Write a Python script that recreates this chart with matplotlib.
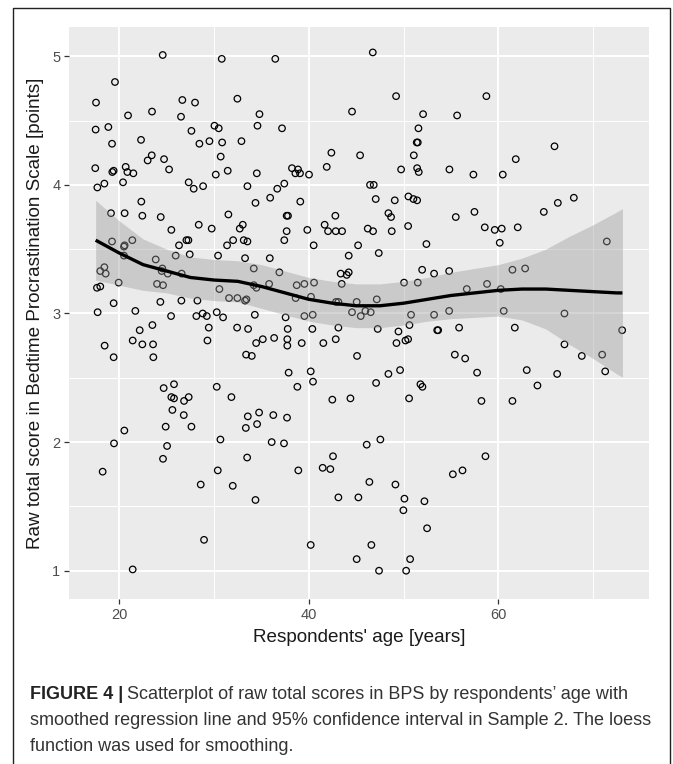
import matplotlib
matplotlib.use("Agg")
import matplotlib.pyplot as plt
from matplotlib.lines import Line2D

plt.rcParams['font.family'] = ['Liberation Sans', 'DejaVu Sans']

# respondents' age and raw BPS score
age = [
    24.58, 30.81, 19.54, 17.54, 26.65, 27.99, 32.46, 20.92, 23.45, 26.51, 34.79, 17.50, 18.84, 27.61, 30.04,
    30.49, 34.58, 19.23, 22.29, 28.45, 29.51, 30.85, 32.89, 17.46, 19.26, 19.40, 20.67, 20.85, 21.48, 22.99,
    23.42, 24.72, 25.25, 30.70, 30.18, 31.44, 34.51, 17.68, 18.42, 20.39, 27.32, 27.85, 28.84, 33.52, 35.92,
    22.32, 19.12, 20.56, 22.43, 24.37, 25.49, 28.38, 29.75, 31.51, 34.37, 32.71, 33.03, 19.23, 20.56, 20.49,
    21.37, 26.30, 27.08, 27.29, 27.43, 25.95, 23.84, 20.49, 31.37, 32.01, 33.13, 33.52, 30.42, 33.27, 35.88,
    34.19, 18.42, 17.99, 18.56, 19.93, 17.64, 17.99, 19.40, 24.54, 24.47, 25.11, 23.98, 24.61, 26.58, 30.56,
    24.33, 26.55, 28.24, 31.58, 32.46, 33.27, 33.42, 34.19, 34.47, 35.81,
    36.46, 46.75, 49.21, 44.56, 52.06, 55.65, 37.17, 51.57, 51.39, 51.50, 42.38, 45.41, 51.08, 41.89, 38.22,
    38.58, 38.86, 39.07, 40.02, 49.74, 51.43, 51.60, 54.84, 36.67, 37.41, 46.46, 46.85, 39.10, 47.06, 49.07,
    50.51, 51.04, 51.43, 37.80, 37.66, 42.80, 41.67, 42.03, 42.84, 43.51, 46.22, 46.78, 48.40, 48.68, 48.75,
    50.48, 55.51, 37.66, 39.84, 37.41, 40.51, 45.20, 52.41, 44.21, 47.38, 36.89, 43.36, 44.00, 44.21, 51.96,
    53.22, 54.81, 38.72, 39.53, 40.55, 43.47, 50.05, 51.50, 38.61, 40.23, 42.87, 43.12, 45.05, 47.17, 56.67,
    58.74, 65.93, 61.84, 57.37, 60.47, 67.97, 66.28, 64.80, 57.48, 58.57, 59.62, 60.36, 62.05, 60.15, 71.45,
    61.49, 62.83, 58.81, 60.26,
    17.71, 21.69, 25.46, 28.13, 28.80, 29.23, 30.28, 30.95, 34.30, 23.49, 22.15, 29.44, 32.43, 33.59, 18.45,
    21.41, 22.43, 23.56, 29.30, 34.44, 35.14, 36.34, 19.40, 23.59, 33.38, 33.98, 24.68, 25.77, 25.49, 25.77,
    27.32, 26.83, 25.60, 26.80, 24.89, 27.61, 30.28, 31.83, 33.56, 34.75, 34.54, 33.35, 20.53, 19.44, 25.04,
    24.61, 30.67, 33.49, 18.24, 30.39, 28.59, 31.97, 34.37, 28.94, 21.41,
    37.55, 39.53, 40.41, 44.56, 45.48, 45.97, 46.53, 50.79, 53.22, 54.81, 37.77, 40.37, 43.12, 47.27, 49.46,
    50.62, 53.55, 53.65, 55.86, 37.73, 37.73, 39.25, 41.53, 42.84, 49.25, 50.20, 50.48, 45.09, 55.41, 56.50,
    37.87, 40.20, 40.44, 38.79, 48.40, 49.63, 47.10, 51.78, 51.99, 42.48, 44.39, 50.58, 36.25, 37.70, 36.08,
    37.38, 46.11, 47.55, 42.55, 38.89, 41.46, 42.27, 46.39, 49.14, 55.20, 56.22, 43.12, 45.23, 50.09, 52.20,
    49.98, 52.48, 40.20, 46.60, 45.05, 50.69, 47.41, 50.27,
    60.57, 66.98, 61.74, 73.07, 66.98, 68.81, 70.96, 71.28, 57.76, 63.00, 66.21, 64.13, 58.22, 61.49, 58.64,
]
score = [
    5.01, 4.98, 4.80, 4.64, 4.66, 4.64, 4.67, 4.54, 4.57, 4.53, 4.55, 4.43, 4.45, 4.42, 4.46,
    4.44, 4.46, 4.32, 4.35, 4.32, 4.34, 4.33, 4.34, 4.13, 4.10, 4.11, 4.14, 4.10, 4.09, 4.19,
    4.23, 4.20, 4.12, 4.22, 4.08, 4.11, 4.09, 3.98, 4.01, 4.02, 4.02, 3.97, 3.99, 3.99, 3.90,
    3.87, 3.78, 3.78, 3.76, 3.75, 3.65, 3.69, 3.66, 3.77, 3.86, 3.66, 3.69, 3.56, 3.53, 3.52,
    3.57, 3.53, 3.57, 3.57, 3.46, 3.45, 3.42, 3.45, 3.53, 3.57, 3.57, 3.56, 3.45, 3.43, 3.43,
    3.35, 3.36, 3.33, 3.31, 3.24, 3.20, 3.21, 3.08, 3.35, 3.33, 3.31, 3.23, 3.22, 3.31, 3.19,
    3.09, 3.10, 3.10, 3.12, 3.12, 3.10, 3.11, 3.22, 3.20, 3.23,
    4.98, 5.03, 4.69, 4.57, 4.55, 4.54, 4.44, 4.44, 4.33, 4.33, 4.25, 4.23, 4.23, 4.14, 4.13,
    4.09, 4.12, 4.09, 4.08, 4.12, 4.13, 4.10, 4.12, 3.97, 4.01, 4.00, 4.00, 3.87, 3.89, 3.88,
    3.91, 3.89, 3.88, 3.76, 3.76, 3.76, 3.69, 3.64, 3.64, 3.64, 3.66, 3.64, 3.78, 3.75, 3.64,
    3.68, 3.75, 3.64, 3.65, 3.57, 3.53, 3.53, 3.54, 3.45, 3.47, 3.32, 3.31, 3.30, 3.32, 3.34,
    3.31, 3.33, 3.22, 3.23, 3.24, 3.23, 3.24, 3.24, 3.12, 3.13, 3.09, 3.09, 3.09, 3.11, 3.19,
    4.69, 4.30, 4.20, 4.08, 4.08, 3.90, 3.86, 3.79, 3.79, 3.67, 3.65, 3.66, 3.67, 3.55, 3.56,
    3.34, 3.35, 3.23, 3.19,
    3.01, 3.02, 2.98, 2.98, 3.00, 2.98, 3.01, 2.97, 2.99, 2.91, 2.87, 2.89, 2.89, 2.88, 2.75,
    2.79, 2.76, 2.76, 2.79, 2.77, 2.80, 2.81, 2.66, 2.66, 2.68, 2.67, 2.42, 2.45, 2.35, 2.34,
    2.35, 2.32, 2.25, 2.21, 2.12, 2.12, 2.43, 2.35, 2.20, 2.23, 2.14, 2.11, 2.09, 1.99, 1.97,
    1.87, 2.02, 1.88, 1.77, 1.78, 1.67, 1.66, 1.55, 1.24, 1.01,
    2.97, 2.98, 2.99, 3.01, 2.98, 3.02, 3.01, 2.99, 2.99, 3.02, 2.88, 2.88, 2.89, 2.88, 2.86,
    2.91, 2.87, 2.87, 2.89, 2.80, 2.75, 2.77, 2.77, 2.80, 2.77, 2.79, 2.80, 2.67, 2.68, 2.65,
    2.54, 2.55, 2.47, 2.43, 2.53, 2.56, 2.46, 2.45, 2.43, 2.33, 2.34, 2.34, 2.21, 2.19, 2.00,
    1.99, 1.98, 2.02, 1.89, 1.78, 1.80, 1.79, 1.69, 1.67, 1.75, 1.78, 1.57, 1.57, 1.56, 1.54,
    1.47, 1.33, 1.20, 1.20, 1.09, 1.09, 1.00, 1.00,
    3.02, 3.00, 2.89, 2.87, 2.76, 2.67, 2.68, 2.55, 2.54, 2.56, 2.53, 2.44, 2.32, 2.32, 1.89,
]

# loess fit and 95% CI
fit_age = [17.5, 20, 22.5, 25, 27.5, 30, 32.5, 35, 37.5, 40, 42.5, 45, 47.5, 50,
           52.5, 55, 57.5, 60, 62.5, 65, 67.5, 70, 72.5, 73.1]
fit_val = [3.57, 3.47, 3.38, 3.33, 3.28, 3.26, 3.25, 3.21, 3.16, 3.11, 3.08, 3.06, 3.06, 3.08,
           3.11, 3.14, 3.16, 3.18, 3.19, 3.19, 3.18, 3.17, 3.16, 3.16]
ci_half = [0.31, 0.25, 0.20, 0.17, 0.16, 0.16, 0.16, 0.17, 0.17, 0.17, 0.17, 0.17, 0.17, 0.17,
           0.17, 0.18, 0.19, 0.20, 0.24, 0.31, 0.42, 0.52, 0.63, 0.655]
ci_low = [v - h for v, h in zip(fit_val, ci_half)]
ci_high = [v + h for v, h in zip(fit_val, ci_half)]

W, H = 673, 764
fig = plt.figure(figsize=(W / 100, H / 100), dpi=100)
fig.patch.set_facecolor('white')

left, right, top, bottom = 69.3, 648.5, 26.7, 599.0
ax = fig.add_axes([left / W, 1 - bottom / H, (right - left) / W, (bottom - top) / H])
ax.set_facecolor('#EBEBEB')
for s in ax.spines.values():
    s.set_visible(False)

ax.set_xlim(14.72, 75.85)
ax.set_ylim(0.78, 5.23)
ax.set_xticks([20, 40, 60])
ax.set_xticks([30, 50, 70], minor=True)
ax.set_yticks([1, 2, 3, 4, 5])
ax.set_yticks([1.5, 2.5, 3.5, 4.5], minor=True)
ax.grid(True, which='major', color='white', lw=1.4)
ax.grid(True, which='minor', color='white', lw=0.7)
ax.set_axisbelow(True)
ax.tick_params(which='major', length=3.5, width=0.9, color='#333333',
               labelsize=10.5, labelcolor='#4D4D4D', pad=3)
ax.tick_params(which='minor', length=0)

ax.scatter(age, score, s=22, facecolors='none', edgecolors='black', linewidths=0.9, zorder=2)
ax.fill_between(fit_age, ci_low, ci_high, color='#999999', alpha=0.4, lw=0, zorder=3)
ax.plot(fit_age, fit_val, color='black', lw=2.4, zorder=4, solid_capstyle='butt')

ax.set_xlabel("Respondents' age [years]", fontsize=13.6, color='#1A1A1A', labelpad=5)
ax.set_ylabel("Raw total score in Bedtime Procrastination Scale [points]", fontsize=13.6,
              color='#1A1A1A', labelpad=6)

# frame around the figure (open at the bottom)
bx0, bx1, by0 = 13.3 / W, 670.3 / W, 1 - 8.3 / H
fig.add_artist(Line2D([bx0, bx0, bx1, bx1], [0, by0, by0, 0], color='#222222', lw=1.0,
                      transform=fig.transFigure))

# caption
cap_color = '#333333'
cap_size = 13
cx = 30 / W
t1 = fig.text(cx, 1 - 699 / H, "FIGURE 4 |", fontsize=cap_size, fontweight='bold', color='#222222',
              va='baseline', ha='left')
fig.canvas.draw()
bb = t1.get_window_extent()
fig.text(bb.x1 / W + 4 / W, 1 - 699 / H, "Scatterplot of raw total scores in BPS by respondents\u2019 age with",
         fontsize=cap_size, color=cap_color, va='baseline', ha='left')
fig.text(cx, 1 - 725 / H,
         "smoothed regression line and 95% confidence interval in Sample 2. The loess",
         fontsize=cap_size, color=cap_color, va='baseline', ha='left')
fig.text(cx, 1 - 751 / H, "function was used for smoothing.",
         fontsize=cap_size, color=cap_color, va='baseline', ha='left')

fig.savefig('out.png', dpi=100)
